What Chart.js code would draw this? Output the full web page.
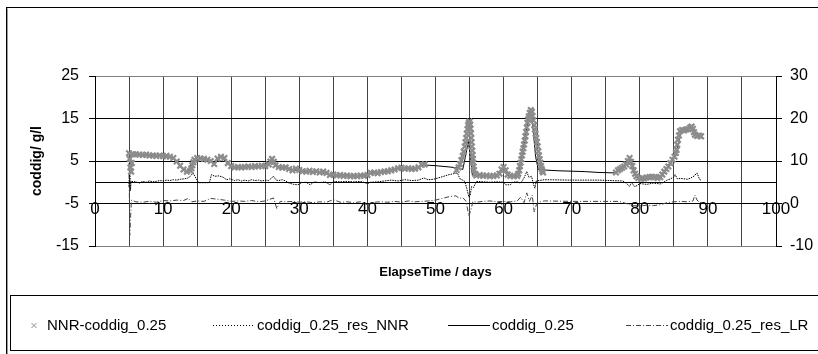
<!DOCTYPE html>
<html>
<head>
<meta charset="utf-8">
<script src="https://cdn.jsdelivr.net/npm/chart.js"></script>
<style>
  html, body { margin: 0; padding: 0; background: #fff; overflow: hidden; }
  #wrap { width: 818px; height: 354px; }
</style>
</head>
<body>
<div id="wrap"><canvas id="c" width="818" height="354"></canvas></div>
<script>
// ---------- DATA ----------
const seriesLabels = ['NNR-coddig_0.25', 'coddig_0.25_res_NNR', 'coddig_0.25', 'coddig_0.25_res_LR'];
const xTickLabels = [0, 10, 20, 30, 40, 50, 60, 70, 80, 90, 100];
const yLeftTicks = [-15, -5, 5, 15, 25];
const yRightTicks = [-10, 0, 10, 20, 30];
const zeroLine = 0;

// NNR-coddig_0.25 (left axis) [day, g/l]
const nnrPoints = [
  [5.0,6.8],[5.1,5.5],[5.2,3.5],[5.3,2.5],[5.4,4.5],[5.6,6.6],[6.0,6.6],[6.5,6.5],[7.0,6.4],[7.5,6.5],
  [8.0,6.3],[8.5,6.3],[9.0,6.2],[9.5,6.3],[10.0,6.1],[10.5,6.2],[11.0,6.0],[11.5,5.7],[12.0,4.9],[12.5,3.9],
  [13.0,3.0],[13.5,2.5],[14.0,2.7],[14.15,3.3],[14.3,4.0],[14.45,4.7],[14.6,5.3],[15.0,5.7],[15.5,5.6],[16.0,5.5],
  [16.5,5.3],[17.0,5.0],[17.5,4.3],[18.0,5.6],[18.5,6.0],[19.0,5.7],[19.5,4.5],[20.0,3.8],[20.5,3.5],[21.0,3.6],
  [21.5,3.5],[22.0,3.6],[22.5,3.7],[23.0,3.6],[23.5,3.8],[24.0,3.7],[24.5,3.9],[25.0,3.8],[25.5,4.2],[25.75,4.9],
  [26.0,5.5],[26.25,4.8],[26.5,4.0],[27.0,3.6],[27.5,3.4],[28.0,3.5],[28.5,3.1],[29.0,2.8],[29.5,3.2],[30.0,2.9],
  [30.5,2.6],[31.0,2.5],[31.5,2.7],[32.0,2.4],[32.5,2.6],[33.0,2.3],[33.5,2.5],[34.0,2.2],[34.5,1.7],[35.0,1.8],
  [35.5,1.6],[36.0,1.7],[36.5,1.5],[37.0,1.6],[37.5,1.4],[38.0,1.5],[38.5,1.4],[39.0,1.6],[39.5,1.5],[40.0,1.7],
  [40.5,2.2],[41.0,2.3],[41.5,2.1],[42.0,2.4],[42.5,2.5],[43.0,2.6],[43.5,2.8],[44.0,3.0],[44.5,3.3],[45.0,3.4],
  [45.5,3.2],[46.0,3.3],[46.5,3.1],[47.0,3.2],[47.5,3.5],[48.0,4.1],[48.4,4.2],
  [53.1,2.9],[53.4,3.5],[53.6,4.3],[53.8,5.2],[54.0,6.2],[54.15,7.2],[54.3,8.4],[54.4,9.4],[54.5,10.4],[54.6,11.4],
  [54.7,12.5],[54.8,13.5],[54.9,14.0],[55.0,14.3],[55.1,13.6],[55.15,12.6],[55.2,11.5],[55.25,10.4],[55.3,9.4],[55.35,8.4],
  [55.4,7.4],[55.45,6.4],[55.5,5.5],[55.55,4.6],[55.6,3.7],[55.65,2.9],[55.8,2.0],[56.0,1.6],[56.5,1.7],[57.0,1.5],
  [57.5,1.6],[58.0,1.4],[58.5,1.5],[59.0,1.6],[59.4,2.0],[59.7,3.0],[60.0,3.6],[60.3,2.8],[60.6,1.8],[61.0,1.5],
  [61.5,1.4],[62.0,1.5],[62.15,2.0],[62.3,2.8],[62.4,3.8],[62.5,4.6],[62.6,5.4],[62.7,6.3],[62.8,7.2],[62.9,8.0],
  [63.0,8.9],[63.1,9.8],[63.2,10.8],[63.3,11.8],[63.4,12.9],[63.5,14.0],[63.6,14.8],[63.7,15.5],[63.85,16.3],[64.0,17.0],
  [64.15,16.6],[64.25,15.6],[64.35,14.6],[64.5,13.4],[64.6,12.4],[64.7,11.4],[64.8,10.4],[64.9,9.5],[65.0,8.4],[65.1,7.3],
  [65.2,6.3],[65.3,5.4],[65.4,4.6],[65.5,3.8],[65.6,3.1],[65.7,2.6],[65.8,2.3],
  [76.5,2.3],[76.8,2.8],[77.1,3.1],[77.4,3.4],[77.7,3.7],[78.0,4.2],[78.25,5.0],[78.5,5.7],[78.7,4.8],[78.9,3.8],
  [79.1,2.8],[79.3,2.0],[79.5,1.4],[79.8,1.0],[80.2,0.8],[80.6,0.9],[81.0,1.1],[81.4,1.2],[81.8,1.3],[82.2,1.2],
  [82.6,1.0],[83.0,1.2],[83.3,1.8],[83.6,2.5],[83.9,3.1],[84.2,3.7],[84.5,4.5],[84.8,5.3],[85.1,6.0],[85.3,6.9],
  [85.4,7.6],[85.5,8.8],[85.6,10.0],[85.75,11.0],[85.9,12.0],[86.2,12.3],[86.5,12.2],[86.8,12.4],[87.1,12.5],[87.4,12.9],
  [87.6,13.1],[87.8,12.6],[87.95,11.8],[88.1,11.2],[88.4,10.9],[88.7,11.0],[89.0,10.8]
];

// coddig_0.25_res_NNR (left axis)
const resNnrPoints = [
  [5.0,-1.0],[5.1,5.0],[5.2,-2.0],[5.3,0.2],[6,0.1],[6.5,-0.2],[7,0.2],[7.5,0.0],[8,0.3],[8.5,0.1],
  [9,0.2],[9.5,0.4],[10,0.3],[10.5,0.5],[11,0.4],[11.5,0.6],[12,0.5],[12.5,0.7],[13,0.8],[13.5,0.9],
  [14,1.4],[14.4,2.2],[14.8,1.0],[15.2,-0.1],[16.0,-0.1],[16.8,-0.1],[17.1,1.8],[17.6,1.4],[18.2,1.5],[18.8,1.2],
  [19.3,0.6],[19.8,0.8],[20.5,0.4],[21.0,0.6],[21.5,0.3],[22.0,0.5],[22.5,0.3],[23.0,0.6],[23.5,0.4],[24.0,0.5],
  [24.5,0.3],[25.0,0.5],[25.5,0.4],[26.2,1.4],[26.6,0.5],[27.0,0.4],[27.5,0.6],[28.0,0.3],[28.5,-0.2],[29.2,-0.5],
  [29.8,-0.6],[30.3,-0.1],[31.0,0.0],[31.6,-0.6],[32.2,0.1],[33.0,-0.1],[33.8,0.1],[34.5,-0.6],[35.0,0.2],[36.0,0.1],
  [37.0,0.2],[38.0,0.1],[39.0,0.2],[40.0,-0.3],[40.5,0.0],[41.5,0.1],[42.5,0.3],[43.5,0.5],[44.5,0.3],[45.5,0.6],
  [46.5,0.4],[47.5,0.5],[48.3,1.0],[48.9,0.6],[49.7,0.7],[50.8,1.2],[52.0,1.8],[53.2,2.2],[53.6,0.8],[54.0,0.5],
  [54.3,0.2],[54.6,-1.5],[54.9,-3.5],[55.1,-3.0],[55.3,-1.0],[55.6,-1.2],[56.0,0.2],[57.0,0.1],[58.0,0.0],[59.0,0.1],
  [60.0,0.0],[60.3,-0.6],[61.0,-0.6],[61.3,0.0],[62.0,0.1],[62.5,-0.2],[63.0,1.0],[63.4,2.5],[63.7,1.2],[64.1,1.4],
  [64.4,-0.5],[64.6,-1.4],[64.8,0.3],[65.2,0.4],[65.6,0.5],[66.0,0.6],[70.0,0.5],[74.0,0.5],[77.5,0.3],[78.0,-0.2],
  [78.5,-1.0],[78.8,0.0],[79.2,-1.0],[79.6,-0.8],[80.0,-0.3],[81.0,-0.5],[82.0,-0.2],[83.0,-0.4],[83.5,0.0],[84.0,0.5],
  [84.5,0.8],[85.0,1.2],[85.2,1.8],[85.5,0.8],[86.0,0.9],[87.0,0.7],[87.5,1.0],[88.0,1.5],[88.4,2.2],[88.8,0.6],
  [89.0,0.5]
];

// coddig_0.25 (left axis)
const coddigPoints = [
  [5.0,6.5],[6.0,6.4],[8.0,6.3],[10.0,6.1],[11.5,5.7],[12.5,3.9],[13.5,2.6],[14.5,5.0],[16.0,5.5],[17.5,4.5],
  [18.5,5.9],[19.5,4.5],[20.5,3.5],[23.0,3.6],[25.0,3.8],[26.0,5.2],[27.0,3.6],[29.0,2.9],[31.0,2.5],[33.0,2.3],
  [34.5,1.8],[37.0,1.6],[39.5,1.5],[40.5,2.2],[43.0,2.6],[45.0,3.4],[47.0,3.2],[48.0,4.1],[50.0,3.9],[52.0,3.6],
  [53.1,3.4],[54.0,3.0],[54.4,6.0],[54.8,9.6],[55.1,6.5],[55.4,1.8],[56.0,1.6],[58.0,1.5],[59.5,2.0],[60.0,3.4],
  [60.6,1.8],[62.0,1.5],[62.5,4.5],[63.2,10.8],[63.7,15.5],[64.0,17.2],[64.4,11.5],[64.7,6.0],[65.1,3.0],[65.8,2.9],
  [68.0,2.7],[70.0,2.6],[72.0,2.5],[74.0,2.3],[76.4,2.2],[77.5,3.5],[78.5,5.5],[79.5,1.5],[80.5,0.9],[82.0,1.2],
  [83.0,1.2],[84.2,3.7],[85.4,7.5],[86.0,11.5],[87.5,12.8],[88.5,11.0],[89.1,10.8]
];

// coddig_0.25_res_LR (right axis)
const resLrPoints = [
  [5.0,9.5],[5.1,-7.5],[5.2,-4.0],[5.35,0.8],[6,0.4],[7,0.3],[8,0.5],[9,0.3],[10,0.7],[11,0.6],
  [12,0.8],[13,0.7],[13.7,1.2],[14.2,0.4],[15,0.6],[16,0.5],[17,1.2],[18,1.0],[19,0.8],[20,0.5],
  [21,0.6],[22,0.5],[23,0.7],[24,0.4],[25,0.6],[26.2,1.3],[26.7,-1.2],[27.2,0.5],[28,0.4],[29,0.5],
  [30,0.3],[31,0.4],[32,0.2],[33,0.4],[34,0.3],[35,0.9],[36,0.3],[37,0.4],[38,0.2],[39,0.4],
  [40,-0.3],[41,0.3],[42,0.4],[43,0.3],[44,0.5],[45,0.3],[46,0.6],[47,0.4],[48,0.5],[49,0.6],
  [50,0.8],[51,1.2],[52,1.6],[53,1.8],[53.5,1.2],[54,1.4],[54.5,0.5],[54.9,-3.0],[55.2,-1.5],[55.5,0.5],
  [56,0.3],[57,0.5],[58,0.6],[59,0.4],[60,0.5],[61,0.4],[62,0.6],[62.5,1.5],[63,0.2],[63.4,2.5],
  [63.8,0.5],[64.2,2.0],[64.5,-2.0],[64.8,-0.3],[65.5,0.5],[66,0.6],[70,0.5],[75,0.5],[77,0.5],[78,0.0],
  [79,-0.5],[80,-0.6],[81,-0.4],[82,-0.5],[83,-0.3],[84,0.2],[85,0.4],[86,0.5],[87,0.4],[87.8,0.6],
  [88.1,2.0],[88.4,0.8],[88.8,0.2],[89,0.3]
];

// ---------- CHART ----------
const toXY = arr => arr.map(p => ({ x: p[0], y: p[1] }));
const FONT = "'Liberation Sans', Arial, sans-serif";
Chart.defaults.font.family = FONT;
Chart.defaults.color = '#000';

const frameAndLegend = {
  id: 'frameAndLegend',
  beforeDraw(chart) {
    const ctx = chart.ctx;
    ctx.save();
    ctx.fillStyle = '#fff';
    ctx.fillRect(0, 0, chart.width, chart.height);
    ctx.restore();
  },
  afterDraw(chart) {
    const ctx = chart.ctx;
    const ds = chart.data.datasets;
    ctx.save();
    // outer chart frame (right/bottom run off the picture)
    ctx.lineWidth = 1;
    ctx.strokeStyle = '#000';
    ctx.strokeRect(6.5, 7.5, 900, 400);
    ctx.strokeStyle = '#9a9a9a';
    ctx.beginPath(); ctx.moveTo(7.5, 8.5); ctx.lineTo(7.5, 354); ctx.stroke();
    // legend frame
    ctx.strokeStyle = '#000';
    ctx.strokeRect(10.5, 295.5, 900, 55);
    const ly = 325.5;
    // item 0 : marker
    ctx.strokeStyle = ds[0].pointBorderColor;
    ctx.lineWidth = 1;
    ctx.beginPath();
    ctx.moveTo(31.5, ly - 2.5); ctx.lineTo(36.5, ly + 2.5);
    ctx.moveTo(36.5, ly - 2.5); ctx.lineTo(31.5, ly + 2.5);
    ctx.stroke();
    // line samples
    const samples = [[1, 213, 255], [2, 448, 490], [3, 626, 668]];
    samples.forEach(s => {
      const d = ds[s[0]];
      ctx.strokeStyle = d.borderColor;
      ctx.lineWidth = 1;
      ctx.setLineDash(s[0] === 1 ? [1, 2] : (d.borderDash || []));
      ctx.beginPath(); ctx.moveTo(s[1], ly); ctx.lineTo(s[2], ly); ctx.stroke();
    });
    ctx.setLineDash([]);
    // texts
    ctx.fillStyle = '#000';
    ctx.font = '15px ' + FONT;
    ctx.textBaseline = 'middle';
    ctx.textAlign = 'left';
    const textX = [47, 257, 492, 670];
    ds.forEach((d, i) => ctx.fillText(d.label, textX[i], ly));
    ctx.restore();
  }
};

new Chart(document.getElementById('c'), {
  type: 'line',
  data: {
    datasets: [
      {
        label: seriesLabels[0], data: toXY(nnrPoints), yAxisID: 'y', xAxisID: 'x',
        showLine: false, pointStyle: 'crossRot', pointRadius: 3.9, pointBorderWidth: 2.2,
        pointBorderColor: '#8c8c8c', pointBackgroundColor: '#8c8c8c', borderColor: '#8c8c8c'
      },
      {
        label: seriesLabels[1], data: toXY(resNnrPoints), yAxisID: 'y', xAxisID: 'x',
        borderColor: '#000', borderWidth: 1, borderDash: [1.5, 1], pointRadius: 0, tension: 0, fill: false
      },
      {
        label: seriesLabels[2], data: toXY(coddigPoints), yAxisID: 'y', xAxisID: 'x',
        borderColor: '#000', borderWidth: 1, pointRadius: 0, tension: 0, fill: false
      },
      {
        label: seriesLabels[3], data: toXY(resLrPoints), yAxisID: 'y2', xAxisID: 'x',
        borderColor: '#444', borderWidth: 1, borderDash: [5, 2, 1, 2], pointRadius: 0, tension: 0, fill: false
      }
    ]
  },
  options: {
    responsive: false,
    animation: false,
    events: [],
    layout: { padding: { left: 0, right: 0, top: 76, bottom: 74 } },
    plugins: { legend: { display: false }, tooltip: { enabled: false } },
    scales: {
      x: {
        type: 'linear', position: 'bottom', min: 0, max: 100,
        ticks: { display: false, stepSize: 5 },
        grid: { color: '#444', drawTicks: false, lineWidth: 1 },
        border: { color: '#808080' },
        title: { display: true, text: 'ElapseTime / days', color: '#000',
                 font: { size: 13, weight: 'bold' }, padding: { top: 0, bottom: 0 } },
        afterFit: s => { s.height = 34; }
      },
      x2: {
        axis: 'x', type: 'linear', position: { y: -5 }, min: 0, max: 100,
        afterBuildTicks: s => { s.ticks = xTickLabels.map(v => ({ value: v })); },
        ticks: { autoSkip: false, maxRotation: 0, font: { size: 17 }, color: '#000', padding: -4 },
        grid: { display: false, drawTicks: false },
        border: { display: false }
      },
      y: {
        type: 'linear', position: 'left', min: -15, max: 25,
        afterBuildTicks: s => {
          s.ticks = yLeftTicks.concat([zeroLine]).sort((a, b) => a - b).map(v => ({ value: v }));
        },
        ticks: { font: { size: 16 }, color: '#000', padding: 10,
                 callback: v => (v === zeroLine ? '' : String(v)) },
        grid: {
          tickLength: 6,
          color: c => (c.tick && (c.tick.value === 25 || c.tick.value === -15)) ? '#808080' : '#000',
          tickColor: c => (c.tick && c.tick.value === zeroLine) ? 'rgba(0,0,0,0)' : '#000'
        },
        border: { color: '#000' },
        title: { display: true, text: 'coddig/ g/l', color: '#000',
                 font: { size: 14, weight: 'bold' }, padding: { top: 29, bottom: 0 } },
        afterFit: s => { s.width = 95; }
      },
      y2: {
        type: 'linear', position: 'right', min: -10, max: 30,
        afterBuildTicks: s => { s.ticks = yRightTicks.map(v => ({ value: v })); },
        ticks: { font: { size: 16 }, color: '#000', padding: 8 },
        grid: { drawOnChartArea: false, tickLength: 6, tickColor: '#000' },
        border: { color: '#000' },
        afterFit: s => { s.width = 42; }
      }
    }
  },
  plugins: [frameAndLegend]
});
</script>
</body>
</html>
